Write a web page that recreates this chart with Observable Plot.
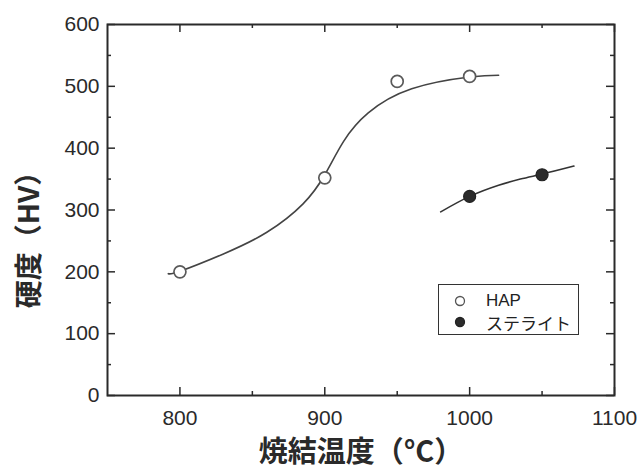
<!DOCTYPE html>
<html>
<head>
<meta charset="utf-8">
<script src="https://cdn.jsdelivr.net/npm/d3@7"></script>
<script src="https://cdn.jsdelivr.net/npm/@observablehq/plot@0.6"></script>
<style>
  html, body { margin: 0; padding: 0; background: #fff; }
  #wrap { position: relative; width: 641px; height: 470px; }
  #legend {
    position: absolute; left: 438px; top: 284px; width: 141px; height: 51px;
    border: 1.3px solid #333; box-sizing: border-box; background: #fff;
    font-family: "Liberation Sans", "Noto Sans CJK JP", sans-serif; font-size: 17px; color: #222;
  }
  #legend .row { position: absolute; left: 0; height: 20px; display: flex; align-items: center; }
  #legend svg { margin-left: 15px; margin-right: 20px; }
</style>
</head>
<body>
<div id="wrap">
  <div id="chart"></div>
  <div id="legend"></div>
</div>
<script>
// ---- data ----
const series = ["HAP", "ステライト"];
const hapTemp = [800, 900, 950, 1000];
const hapHV = [200, 352, 508, 516];
const stelTemp = [1000, 1050];
const stelHV = [322, 357];

// fitted curves
const hapCurveTemp = [792, 800, 830, 860, 885, 900, 913, 930, 960, 1000, 1020];
const hapCurveHV   = [197, 201, 229, 264, 310, 357, 411, 457, 496, 515, 518];
const stelCurveTemp = [980, 1000, 1020, 1035, 1050, 1072];
const stelCurveHV   = [297, 322, 340, 350, 358, 371];

const xMajor = [800, 900, 1000, 1100];
const xMinor = [850, 950, 1050];
const yMajor = [0, 100, 200, 300, 400, 500, 600];
const yMinor = [50, 150, 250, 350, 450, 550];

const xLabel = "焼結温度（°C）";
const yLabel = "硬度（HV）";

// ---- build ----
const W = 641, H = 470;
const mL = 107, mR = 27, mT = 24, mB = 75;
const fw = W - mL - mR, fh = H - mT - mB;

const hap = hapTemp.map((t, i) => ({t, v: hapHV[i]}));
const stel = stelTemp.map((t, i) => ({t, v: stelHV[i]}));
const hapCurve = hapCurveTemp.map((t, i) => ({t, v: hapCurveHV[i]}));
const stelCurve = stelCurveTemp.map((t, i) => ({t, v: stelCurveHV[i]}));

const ink = "#2a2a2a";
const majorLen = 8, minorLen = 4;

const chart = Plot.plot({
  width: W, height: H,
  marginLeft: mL, marginRight: mR, marginTop: mT, marginBottom: mB,
  style: { fontFamily: "'Liberation Sans', Arial, sans-serif", fontSize: "21px", color: ink, background: "#fff" },
  x: { domain: [750, 1100] },
  y: { domain: [0, 600] },
  marks: [
    Plot.axisX({ ticks: xMajor, tickSize: 0, tickPadding: 15, label: null, tickFormat: d => String(d), fill: ink }),
    Plot.axisY({ ticks: yMajor, tickSize: 0, tickPadding: 8, label: null, tickFormat: d => String(d), fill: ink }),
    // inward ticks: bottom, top, left, right
    Plot.tickX(xMajor, { x: d => d, insetTop: fh - majorLen, stroke: ink, strokeWidth: 1.5 }),
    Plot.tickX(xMinor, { x: d => d, insetTop: fh - minorLen, stroke: ink, strokeWidth: 1.5 }),
    Plot.tickX(xMajor, { x: d => d, insetBottom: fh - majorLen, stroke: ink, strokeWidth: 1.5 }),
    Plot.tickX(xMinor, { x: d => d, insetBottom: fh - minorLen, stroke: ink, strokeWidth: 1.5 }),
    Plot.tickY(yMajor, { y: d => d, insetRight: fw - majorLen, stroke: ink, strokeWidth: 1.5 }),
    Plot.tickY(yMinor, { y: d => d, insetRight: fw - minorLen, stroke: ink, strokeWidth: 1.5 }),
    Plot.tickY(yMajor, { y: d => d, insetLeft: fw - majorLen, stroke: ink, strokeWidth: 1.5 }),
    Plot.tickY(yMinor, { y: d => d, insetLeft: fw - minorLen, stroke: ink, strokeWidth: 1.5 }),
    Plot.frame({ stroke: ink, strokeWidth: 2 }),
    // curves
    Plot.line(hapCurve, { x: "t", y: "v", curve: "natural", stroke: "#444", strokeWidth: 1.6 }),
    Plot.line(stelCurve, { x: "t", y: "v", curve: "monotone-x", stroke: "#333", strokeWidth: 1.6 }),
    // points
    Plot.dot(hap, { x: "t", y: "v", r: 6, fill: "#fff", stroke: "#5a5a5a", strokeWidth: 1.7 }),
    Plot.dot(stel, { x: "t", y: "v", r: 6, fill: "#2b2b2b", stroke: "#222", strokeWidth: 1.2 }),
    // axis titles
    Plot.text([xLabel], { text: d => d, frameAnchor: "bottom", textAnchor: "middle", dx: 0, dy: 57, lineAnchor: "middle",
      fontFamily: "'Noto Sans CJK JP', sans-serif", fontSize: 29, fontWeight: "bold", fill: ink }),
    Plot.text([yLabel], { text: d => d, frameAnchor: "left", textAnchor: "middle", dx: -77, dy: 23, rotate: -90, lineAnchor: "middle",
      fontFamily: "'Noto Sans CJK JP', sans-serif", fontSize: 28, fontWeight: "bold", fill: ink })
  ]
});
document.getElementById("chart").appendChild(chart);

// legend
const legend = document.getElementById("legend");
const styles = [
  { fill: "#fff", stroke: "#555" },
  { fill: "#2b2b2b", stroke: "#222" }
];
series.forEach((name, i) => {
  const row = document.createElement("div");
  row.className = "row";
  row.style.top = (6 + i * 21) + "px";
  row.innerHTML = `<svg width="12" height="12"><circle cx="6" cy="6" r="4.5" fill="${styles[i].fill}" stroke="${styles[i].stroke}" stroke-width="1.3"/></svg><span>${name}</span>`;
  legend.appendChild(row);
});
</script>
</body>
</html>
